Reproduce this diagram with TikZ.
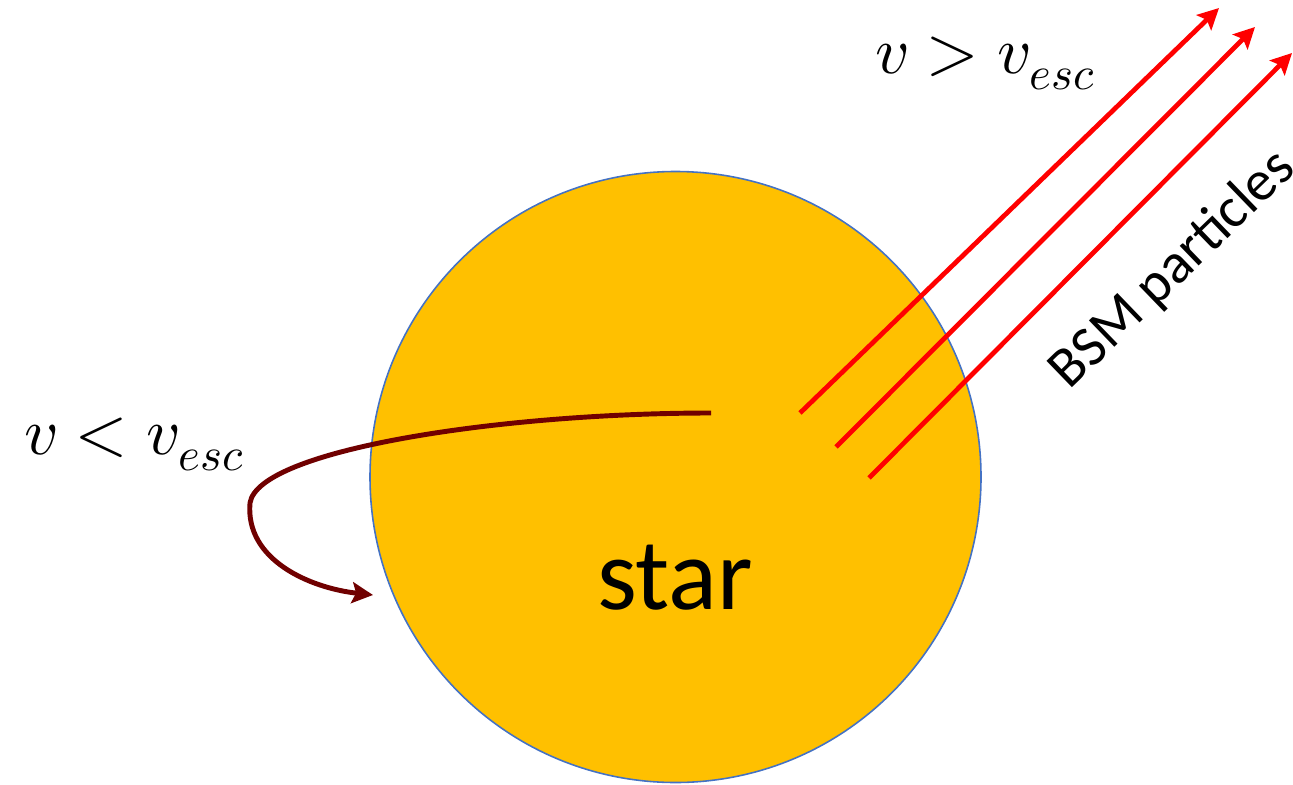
\documentclass[tikz,border=0pt]{standalone}
\usepackage{fontspec}
\usepackage{unicode-math}
\setmainfont{Carlito}
\setmathfont{Latin Modern Math}
\usetikzlibrary{arrows.meta}
\definecolor{starfill}{RGB}{255,192,0}
\definecolor{starline}{RGB}{68,114,196}
\definecolor{escred}{RGB}{255,0,0}
\definecolor{trapred}{RGB}{112,0,0}
\begin{document}
\begin{tikzpicture}[x=0.02cm,y=-0.02cm,
  ray/.style={draw=escred,line width=2.7pt,-{Stealth[length=0.42cm,width=0.42cm,inset=0.08cm]}},
  trap/.style={draw=trapred,line width=2.8pt,-{Stealth[length=0.42cm,width=0.42cm,inset=0.08cm]}},
  mathlbl/.style={font=\fontsize{38}{40}\selectfont,inner sep=0pt}]
\useasboundingbox (0,0) rectangle (1293,784);
\node[circle,draw=starline,line width=0.9pt,fill=starfill,minimum size=611*0.02cm,inner sep=0pt] (star) at (675.5,477) {};
\node[font=\fontsize{58}{60}\selectfont] (starlbl) at (675,578) {star};
% escaping particles
\coordinate (s1) at (800,413); \coordinate (e1) at (1219,8);
\coordinate (s2) at (836,447); \coordinate (e2) at (1255,27);
\coordinate (s3) at (869,478); \coordinate (e3) at (1292,53);
\draw[ray] (s1) -- (e1);
\draw[ray] (s2) -- (e2);
\draw[ray] (s3) -- (e3);
% trapped particle
\coordinate (t0) at (711,413);
\coordinate (t1) at (250,503);
\coordinate (t2) at (373,595);
\draw[trap] (t0) .. controls (500,413) and (258,450) .. (t1)
  .. controls (245,560) and (310,588) .. (t2);
% labels
\node[mathlbl,anchor=base west] (lo) at (24,454) {$v<v_{esc}$};
\node[mathlbl,anchor=base west] (hi) at (875,73) {$v>v_{esc}$};
\node[font=\fontsize{32.5}{34}\selectfont,rotate=44,inner sep=0pt] (bsm) at (1173,270) {BSM particles};
\end{tikzpicture}
\end{document}
